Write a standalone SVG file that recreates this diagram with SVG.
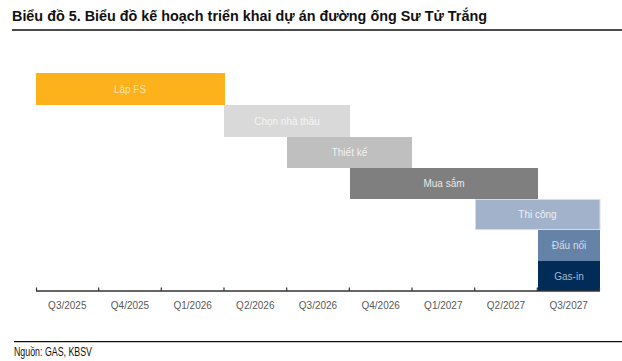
<svg xmlns="http://www.w3.org/2000/svg" width="622" height="361" viewBox="0 0 622 361">
<style>
  .title{font-family:"Liberation Sans",Arial,sans-serif;font-weight:bold;font-size:14.5px;fill:#111}
  .src{font-family:"Liberation Sans",Arial,sans-serif;font-size:12px;fill:#111}
  .lbl{font-family:"Liberation Sans",Arial,sans-serif;font-size:10px;text-anchor:middle}
  .ax{font-family:"Liberation Sans",Arial,sans-serif;font-size:10px;fill:#595959;text-anchor:middle}
  .rule{stroke:#111;stroke-width:1.3}
</style>
<rect width="622" height="361" fill="#fff"/>
<text class="title" x="12" y="21" textLength="475" lengthAdjust="spacingAndGlyphs">Biểu đồ 5. Biểu đồ kế hoạch triển khai dự án đường ống Sư Tử Trắng</text>
<line class="rule" x1="12" y1="30" x2="622" y2="30"/>

<g id="lap-fs"><rect x="36" y="73" width="189" height="32" fill="#FDB11B"/><text class="lbl" x="130" y="92.5" fill="#FBE3B6">Lập FS</text></g>
<g id="chon-nha-thau"><rect x="224" y="105" width="126" height="32" fill="#D9D9D9"/><text class="lbl" x="287" y="124.5" fill="#F5F5F5">Chọn nhà thầu</text></g>
<g id="thiet-ke"><rect x="287" y="137" width="125" height="31" fill="#BFBFBF"/><text class="lbl" x="349.5" y="156" fill="#F2F2F2">Thiết kế</text></g>
<g id="mua-sam"><rect x="350" y="168" width="188" height="31" fill="#7F7F7F"/><text class="lbl" x="444" y="187" fill="#E8E8E8">Mua sắm</text></g>
<g id="thi-cong"><rect x="475.5" y="199.5" width="124.5" height="30" fill="#A2B2CB" stroke="#D6DDE8" stroke-width="1"/><text class="lbl" x="537.5" y="218" fill="#EEF1F6">Thi công</text></g>
<g id="dau-noi"><rect x="538" y="230" width="62" height="31" fill="#6583A6"/><text class="lbl" x="569" y="249" fill="#D5DEEA">Đấu nối</text></g>
<g id="gas-in"><rect x="538" y="261" width="62" height="30" fill="#002C57"/><text class="lbl" x="569" y="279.5" fill="#A9B8CE">Gas-in</text></g>

<g id="connectors">
  <line x1="36" y1="291" x2="600" y2="291" stroke="#333" stroke-width="1.5"/>
  <g stroke="#333" stroke-width="1.2">
    <line x1="36.5" y1="287.5" x2="36.5" y2="291"/>
    <line x1="98.7" y1="287.5" x2="98.7" y2="291"/>
    <line x1="161.3" y1="287.5" x2="161.3" y2="291"/>
    <line x1="224" y1="287.5" x2="224" y2="291"/>
    <line x1="286.7" y1="287.5" x2="286.7" y2="291"/>
    <line x1="349.3" y1="287.5" x2="349.3" y2="291"/>
    <line x1="412" y1="287.5" x2="412" y2="291"/>
    <line x1="474.7" y1="287.5" x2="474.7" y2="291"/>
    <line x1="537.3" y1="287.5" x2="537.3" y2="291"/>
    <line x1="599.5" y1="287.5" x2="599.5" y2="291"/>
  </g>
</g>

<g id="axis-labels">
  <text class="ax" x="67.3" y="308.5">Q3/2025</text>
  <text class="ax" x="130" y="308.5">Q4/2025</text>
  <text class="ax" x="192.7" y="308.5">Q1/2026</text>
  <text class="ax" x="255.3" y="308.5">Q2/2026</text>
  <text class="ax" x="318" y="308.5">Q3/2026</text>
  <text class="ax" x="380.7" y="308.5">Q4/2026</text>
  <text class="ax" x="443.3" y="308.5">Q1/2027</text>
  <text class="ax" x="506" y="308.5">Q2/2027</text>
  <text class="ax" x="568.7" y="308.5">Q3/2027</text>
</g>

<line class="rule" x1="14" y1="341.7" x2="622" y2="341.7"/>
<text class="src" x="14" y="355.5" textLength="78" lengthAdjust="spacingAndGlyphs">Nguồn: GAS, KBSV</text>
</svg>
